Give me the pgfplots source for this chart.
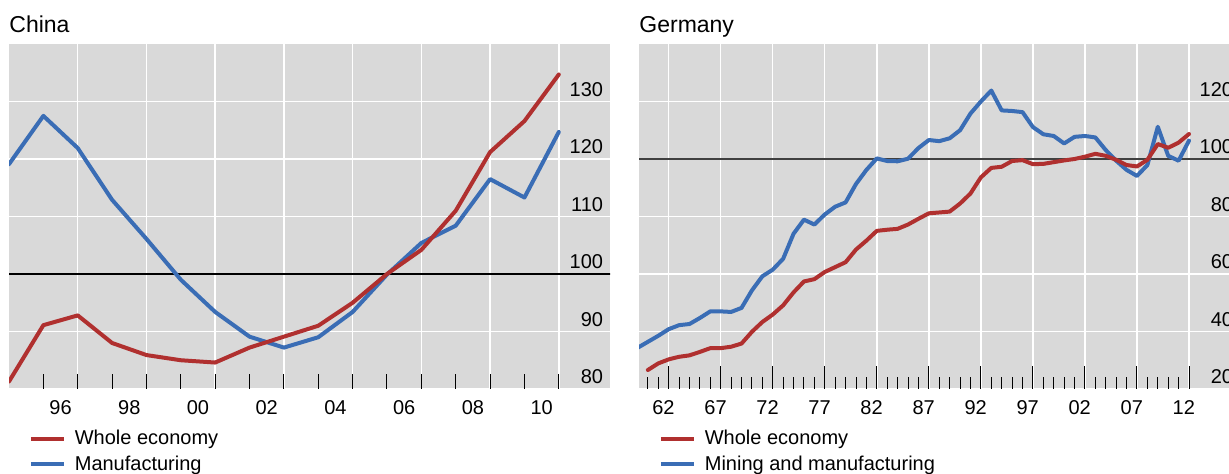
\documentclass[border=0pt]{standalone}
\usepackage{fontspec}
\setmainfont{Liberation Sans}
\usepackage{pgfplots}
\pgfplotsset{compat=1.18}
\usepackage{pgfplotstable}

\definecolor{seriesred}{HTML}{B0302F}
\definecolor{seriesblue}{HTML}{3A6DB5}
\definecolor{panelgray}{HTML}{D9D9D9}
\definecolor{refgray}{HTML}{404040}

% China, year-end index (2005 = 100)
\pgfplotstableread{
t     whole  manuf
1995  81.3   119.1
1996  91.1   127.5
1997  92.8   121.9
1998  88.0   112.9
1999  85.9   106.1
2000  85.0   99.0
2001  84.6   93.4
2002  87.2   89.1
2003  89.1   87.2
2004  91.0   89.0
2005  95.0   93.4
2006  100.0  99.9
2007  104.2  105.4
2008  111.0  108.4
2009  121.2  116.5
2010  126.6  113.3
2011  134.7  124.7
}\chinadata

% Germany, year-end index
\pgfplotstableread{
t     whole  mining
1960  nan    34.3
1961  26.6   36.4
1962  28.9   38.5
1963  30.3   40.8
1964  31.2   42.2
1965  31.7   42.6
1966  32.9   44.7
1967  34.2   47.0
1968  34.2   47.0
1969  34.7   46.8
1970  35.8   48.2
1971  39.9   54.3
1972  43.3   59.2
1973  45.9   61.5
1974  49.1   65.3
1975  53.6   74.0
1976  57.4   78.9
1977  58.2   77.2
1978  60.7   80.7
1979  62.4   83.4
1980  64.1   84.9
1981  68.5   91.3
1982  71.6   96.2
1983  75.0   100.2
1984  75.4   99.3
1985  75.7   99.2
1986  77.2   100.1
1987  79.2   103.8
1988  81.1   106.6
1989  81.4   106.2
1990  81.7   107.2
1991  84.5   110.0
1992  88.0   115.8
1993  93.6   120.0
1994  96.9   123.8
1995  97.3   116.9
1996  99.3   116.7
1997  99.6   116.3
1998  98.2   111.1
1999  98.3   108.6
2000  98.9   108.0
2001  99.5   105.4
2002  100.0  107.7
2003  100.8  108.0
2004  101.8  107.5
2005  101.1  103.1
2006  99.7   99.4
2007  97.9   96.2
2008  97.4   94.1
2009  99.7   97.9
2010  105.2  111.2
2011  103.9  101.1
2012  105.7  99.4
2013  108.7  106.4
}\germanydata

\pgfplotsset{
  panel/.style={
    scale only axis, width=300.5pt, height=172.5pt,
    axis background/.style={fill=panelgray},
    axis line style={draw=none},
    tick style={black, line width=0.5pt},
    xtick pos=bottom, ytick pos=right,
    tick align=inside,
    ymajorgrids,
    major grid style={white, line width=0.7pt},
    ytick style={draw=none},
    major tick length=0pt,
    yticklabel style={anchor=base east, inner sep=0pt, xshift=-3.3pt, yshift=2.5pt},
    xticklabel style={anchor=base, inner sep=0pt, yshift=-13pt},
    /pgf/number format/assume math mode=true,
    tick label style={font=\fontsize{10}{12}\selectfont},
    every axis title shift=0pt,
    title style={at={(axis description cs:0,1)}, anchor=base west, yshift=5.5pt,
      inner sep=0pt, font=\fontsize{11.5}{14}\selectfont},
    legend style={at={(axis description cs:0.033,-0.119)}, anchor=north west,
      draw=none, fill=none, inner sep=0pt, outer sep=0pt, row sep=4.1pt,
      font=\fontsize{10}{12}\selectfont, nodes={inner sep=0pt}},
    legend cell align=left,
    legend image code/.code={
      \draw[#1, line cap=butt] (0pt,0pt) -- (16.5pt,0pt);
      \path (21pt,0pt);
    },
    clip=true,
  },
  series/.style={line width=2pt, line cap=round, line join=round, forget plot},
}

\begin{document}
\begin{tikzpicture}

% ---- China ----
\begin{axis}[panel,
  at={(4.5pt,42.5pt)}, anchor=south west,
  title={China},
  xmin=1995, xmax=2012.49, ymin=80, ymax=140,
  ytick={80,90,100,110,120,130},
  xtick={1996.5,1998.5,2000.5,2002.5,2004.5,2006.5,2008.5,2010.5},
  xticklabels={96,98,00,02,04,06,08,10},
  minor xtick={1996,1998,...,2010},
  minor tick length=7.5pt,
  extra x ticks={1997,1999,2001,2003,2005,2007,2009,2011},
  extra x tick labels={},
  extra x tick style={grid=major, major tick length=7.5pt},
]
\addplot[black, line width=0.6pt, forget plot] coordinates {(1990,100) (2020,100)};
\addplot[seriesblue, series] table[x=t, y=manuf] {\chinadata};
\addplot[seriesred, series] table[x=t, y=whole] {\chinadata};
\addlegendimage{seriesred, line width=2pt}
\addlegendentry{Whole economy}
\addlegendimage{seriesblue, line width=2pt}
\addlegendentry{Manufacturing}
\end{axis}

% ---- Germany ----
\begin{axis}[panel,
  at={(319.5pt,42.5pt)}, anchor=south west,
  title={Germany},
  xmin=1960.15, xmax=2017.9, ymin=20, ymax=140,
  ytick={20,40,60,80,100,120},
  xtick={1962.5,1967.5,1972.5,1977.5,1982.5,1987.5,1992.5,1997.5,2002.5,2007.5,2012.5},
  xticklabels={62,67,72,77,82,87,92,97,02,07,12},
  minor xtick={1961,1962,1964,1965,1966,1967,1969,1970,1971,1972,1974,1975,1976,1977,
    1979,1980,1981,1982,1984,1985,1986,1987,1989,1990,1991,1992,1994,1995,1996,1997,
    1999,2000,2001,2002,2004,2005,2006,2007,2009,2010,2011,2012},
  minor tick length=6pt,
  extra x ticks={1963,1968,1973,1978,1983,1988,1993,1998,2003,2008,2013},
  extra x tick labels={},
  extra x tick style={grid=major, major tick length=11.5pt},
]
\addplot[refgray, line width=1.1pt, forget plot] coordinates {(1950,100) (2030,100)};
\addplot[seriesblue, series] table[x=t, y=mining] {\germanydata};
\addplot[seriesred, series] table[x=t, y=whole] {\germanydata};
\addlegendimage{seriesred, line width=2pt}
\addlegendentry{Whole economy}
\addlegendimage{seriesblue, line width=2pt}
\addlegendentry{Mining and manufacturing}
\end{axis}

\pgfresetboundingbox
\useasboundingbox (0,0) rectangle (614.5pt,237pt);
\end{tikzpicture}
\end{document}
